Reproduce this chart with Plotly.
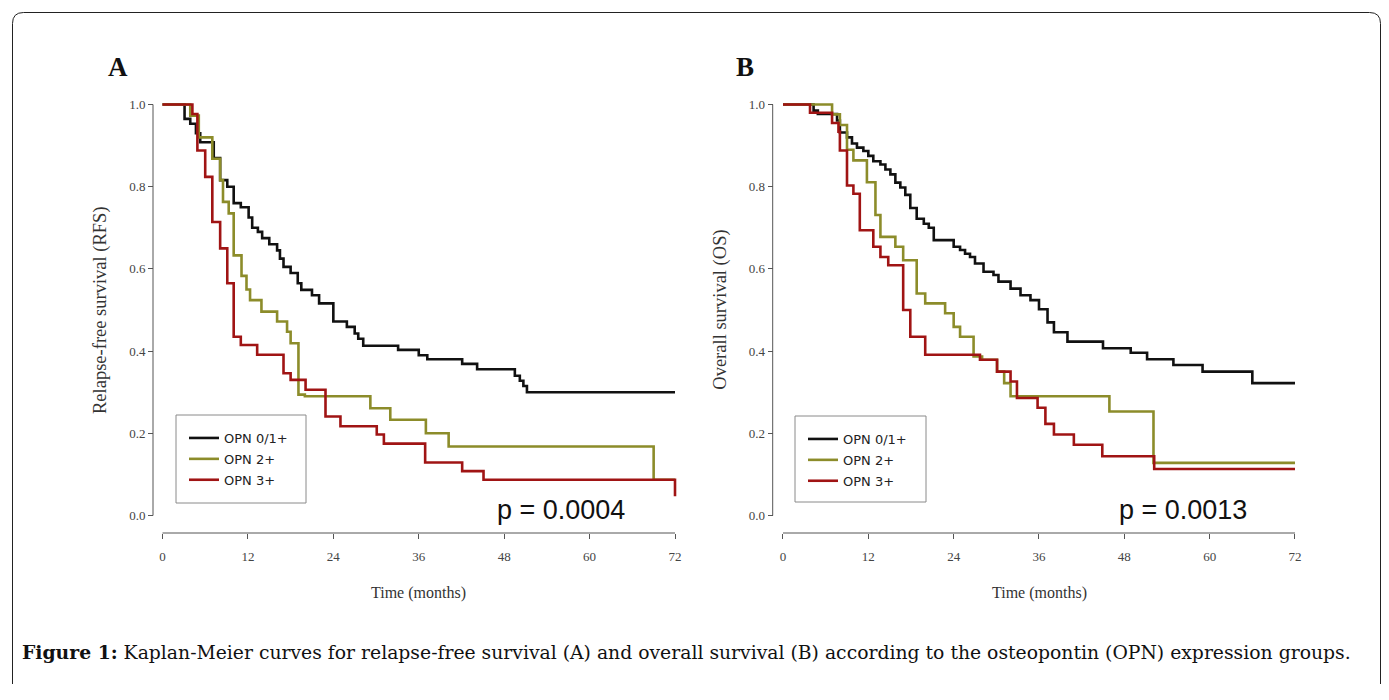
import plotly.graph_objects as go

# ---------------- data ----------------
series_names = ["OPN 0/1+", "OPN 2+", "OPN 3+"]
x_ticks = [0, 12, 24, 36, 48, 60, 72]
y_ticks = [0.0, 0.2, 0.4, 0.6, 0.8, 1.0]

# Panel A: relapse-free survival
rfs_01_t = [0, 3.1, 3.9, 4.7, 5.3, 7.2, 8.1, 9.1, 10.0, 11.0, 12.1, 12.6, 13.4, 14.0, 15.0, 16.1, 16.5,
            17.0, 18.0, 19.0, 19.5, 21.0, 22.0, 24.0, 25.9, 27.0, 27.5, 28.2, 33.1, 36.0, 37.2, 42.1,
            44.2, 49.5, 50.2, 50.7, 51.2, 72]
rfs_01_s = [1.0, 0.965, 0.953, 0.93, 0.908, 0.87, 0.816, 0.80, 0.76, 0.75, 0.725, 0.70, 0.69, 0.675,
            0.66, 0.645, 0.625, 0.605, 0.59, 0.565, 0.549, 0.536, 0.516, 0.472, 0.459, 0.443, 0.43,
            0.413, 0.403, 0.39, 0.38, 0.369, 0.356, 0.34, 0.328, 0.315, 0.30, 0.30]
rfs_2_t = [0, 3.9, 5.1, 7.0, 8.1, 8.5, 9.3, 10.0, 11.1, 11.8, 12.3, 13.9, 16.1, 17.5, 18.0, 19.1, 20.0,
           29.2, 32.0, 37.0, 40.2, 69.0, 72]
rfs_2_s = [1.0, 0.973, 0.92, 0.868, 0.816, 0.763, 0.735, 0.633, 0.583, 0.55, 0.524, 0.496, 0.472, 0.447,
           0.419, 0.294, 0.29, 0.261, 0.233, 0.20, 0.168, 0.087, 0.087]
rfs_3_t = [0, 4.2, 4.9, 6.0, 7.0, 8.1, 9.1, 10.0, 11.0, 13.3, 17.0, 18.0, 20.1, 22.9, 25.0, 30.1, 31.1,
           36.9, 42.1, 45.1, 72, 72]
rfs_3_s = [1.0, 0.977, 0.888, 0.824, 0.714, 0.65, 0.565, 0.435, 0.415, 0.391, 0.346, 0.33, 0.306, 0.241,
           0.217, 0.197, 0.175, 0.129, 0.108, 0.087, 0.087, 0.047]

# Panel B: overall survival
os_01_t = [0, 4.3, 4.9, 7.6, 8.0, 9.0, 9.7, 10.4, 11.3, 12.0, 12.7, 13.7, 14.4, 15.1, 15.8, 16.5, 17.2,
           17.9, 18.8, 19.8, 20.5, 21.2, 24.0, 24.9, 25.6, 26.3, 27.0, 28.2, 29.6, 30.3, 32.0, 33.4,
           34.8, 36.0, 37.2, 38.1, 40.0, 45.0, 48.9, 51.2, 54.9, 59.0, 66.0, 72]
os_01_s = [1.0, 0.985, 0.977, 0.961, 0.932, 0.92, 0.905, 0.895, 0.887, 0.875, 0.862, 0.854, 0.842, 0.83,
           0.81, 0.798, 0.78, 0.748, 0.722, 0.71, 0.70, 0.67, 0.654, 0.646, 0.637, 0.629, 0.613, 0.593,
           0.585, 0.569, 0.552, 0.536, 0.524, 0.502, 0.47, 0.446, 0.423, 0.407, 0.396, 0.38, 0.366,
           0.35, 0.322, 0.322]
os_2_t = [0, 6.9, 8.0, 9.0, 9.9, 11.8, 13.0, 13.7, 15.8, 16.9, 18.8, 20.0, 22.8, 24.0, 24.9, 26.8, 28.0,
          30.1, 31.1, 32.0, 45.9, 52.1, 72]
os_2_s = [1.0, 0.976, 0.95, 0.89, 0.864, 0.811, 0.731, 0.678, 0.654, 0.621, 0.54, 0.516, 0.492, 0.459,
          0.435, 0.387, 0.379, 0.35, 0.322, 0.29, 0.253, 0.128, 0.128]
os_3_t = [0, 3.8, 6.9, 7.8, 8.0, 9.0, 9.9, 10.8, 12.7, 13.7, 14.8, 16.9, 17.9, 20.0, 27.7, 30.1, 32.0,
          32.9, 35.8, 36.9, 38.1, 40.9, 44.9, 52.2, 72]
os_3_s = [1.0, 0.98, 0.955, 0.934, 0.888, 0.803, 0.783, 0.694, 0.654, 0.629, 0.609, 0.5, 0.435, 0.391,
          0.379, 0.35, 0.326, 0.286, 0.262, 0.223, 0.197, 0.172, 0.144, 0.113, 0.113]

p_values = ["p = 0.0004", "p = 0.0013"]
panel_letters = ["A", "B"]
y_titles = ["Relapse-free survival (RFS)", "Overall survival (OS)"]
x_title = "Time (months)"
caption_bold = "Figure 1:"
caption_text = (" Kaplan-Meier curves for relapse-free survival (A) and overall survival (B) "
                "according to the osteopontin (OPN) expression groups.")

# ---------------- styling / geometry ----------------
OFF = 8                      # page body margin of the html page
W, H = 1389 - OFF, 676
colors = ["#111111", "#8c8c2a", "#a01414"]
SERIF = "Liberation Serif"
SANS = "Liberation Sans"


def px(p):
    return (p - OFF) / W


def py(p):
    return 1 - (p - OFF) / H


XR = [-1, 73]
YR = [-0.02, 1.02]
s0px, s1px = 515.5, 104.5
panels = [
    dict(t0=162.5, t72=675.0, yline=153.0, xline=533.0, box=(176, 415, 306, 503), pcx=561, lx=118),
    dict(t0=783.0, t72=1295.0, yline=772.7, xline=533.0, box=(795, 416, 926, 502), pcx=1183, lx=745),
]

fig = go.Figure()
data_sets = [
    [(rfs_01_t, rfs_01_s), (rfs_2_t, rfs_2_s), (rfs_3_t, rfs_3_s)],
    [(os_01_t, os_01_s), (os_2_t, os_2_s), (os_3_t, os_3_s)],
]

shapes = []
annotations = []
layout_axes = {}
for i, (pan, ds) in enumerate(zip(panels, data_sets)):
    xa = "x" if i == 0 else "x2"
    ya = "y" if i == 0 else "y2"
    leg = "legend" if i == 0 else "legend2"
    for j, (t, s) in enumerate(ds):
        fig.add_trace(go.Scatter(
            x=t, y=s, mode="lines", name=series_names[j],
            line=dict(shape="hv", color=colors[j], width=2.6),
            xaxis=xa, yaxis=ya, legend=leg, legendgroup=f"g{i}{j}",
            hoverinfo="skip",
        ))
    ppm = (pan["t72"] - pan["t0"]) / 72.0
    dx0 = pan["t0"] + XR[0] * ppm
    dx1 = pan["t0"] + XR[1] * ppm
    ppu = s0px - s1px
    dy0 = s0px - YR[0] * ppu
    dy1 = s0px - YR[1] * ppu
    xkey = "xaxis" if i == 0 else "xaxis2"
    ykey = "yaxis" if i == 0 else "yaxis2"
    tickfont = dict(family=SERIF, size=13, color="#444444")
    layout_axes[xkey] = dict(
        domain=[px(dx0), px(dx1)], range=XR, anchor="free", position=py(pan["xline"]),
        tickvals=x_ticks, ticktext=[str(v) for v in x_ticks], ticks="outside", ticklen=5,
        tickcolor="#555555", tickwidth=1, showline=False, showgrid=False, zeroline=False,
        tickfont=tickfont, fixedrange=True, ticklabelstandoff=6,
    )
    layout_axes[ykey] = dict(
        domain=[py(dy0), py(dy1)], range=YR, anchor="free", position=px(pan["yline"]),
        tickvals=y_ticks, ticktext=[f"{v:.1f}" for v in y_ticks], ticks="outside", ticklen=5,
        tickcolor="#555555", tickwidth=1, showline=False, showgrid=False, zeroline=False,
        tickfont=tickfont, fixedrange=True,
    )
    # R-style axis lines spanning first to last tick
    shapes.append(dict(type="line", xref=xa, yref="paper", x0=x_ticks[0], x1=x_ticks[-1],
                       y0=py(pan["xline"]), y1=py(pan["xline"]), line=dict(color="#555555", width=1)))
    shapes.append(dict(type="line", xref="paper", yref=ya, x0=px(pan["yline"]), x1=px(pan["yline"]),
                       y0=y_ticks[0], y1=y_ticks[-1], line=dict(color="#555555", width=1)))
    # legend (box drawn as a shape, entries by plotly's legend)
    bx0, by0, bx1, by1 = pan["box"]
    shapes.append(dict(type="rect", xref="paper", yref="paper", x0=px(bx0), x1=px(bx1),
                       y0=py(by0), y1=py(by1), line=dict(color="#8a8a8a", width=1)))
    layout_axes[leg] = dict(
        x=px(bx0 + 8), y=py(by0 + 8), xanchor="left", yanchor="top",
        borderwidth=0, bgcolor="rgba(255,255,255,0)",
        font=dict(family="DejaVu Sans", size=13, color="#222222"),
        tracegroupgap=1, itemwidth=30, traceorder="grouped",
    )
    # texts
    annotations.append(dict(text=p_values[i], x=px(pan["pcx"]), y=py(510), xref="paper", yref="paper",
                            showarrow=False, font=dict(family=SANS, size=27, color="#111111"),
                            xanchor="center", yanchor="middle"))
    annotations.append(dict(text=f"<b>{panel_letters[i]}</b>", x=px(pan["lx"]), y=py(67), xref="paper",
                            yref="paper", showarrow=False, font=dict(family=SERIF, size=27, color="#111111"),
                            xanchor="center", yanchor="middle"))
    annotations.append(dict(text=y_titles[i], x=px(pan["yline"] - 52), y=py((s0px + s1px) / 2),
                            xref="paper", yref="paper", showarrow=False, textangle=-90,
                            font=dict(family=SERIF, size=18.5, color="#333333"),
                            xanchor="center", yanchor="middle"))
    annotations.append(dict(text=x_title, x=px((pan["t0"] + pan["t72"]) / 2), y=py(593),
                            xref="paper", yref="paper", showarrow=False,
                            font=dict(family=SERIF, size=16, color="#333333"),
                            xanchor="center", yanchor="middle"))

annotations.append(dict(text=f"<b>{caption_bold}</b>{caption_text}", x=px(20), y=py(652),
                        xref="paper", yref="paper", showarrow=False, xanchor="left", yanchor="middle",
                        font=dict(family="DejaVu Serif", size=18.8, color="#111111")))

# rounded outer frame
r = 11
L, T, R_, B = 12.5, 12.5, 1380.5, 720
path = (f"M {px(L + r)},{py(T)} L {px(R_ - r)},{py(T)} Q {px(R_)},{py(T)} {px(R_)},{py(T + r)} "
        f"L {px(R_)},{py(B - r)} Q {px(R_)},{py(B)} {px(R_ - r)},{py(B)} "
        f"L {px(L + r)},{py(B)} Q {px(L)},{py(B)} {px(L)},{py(B - r)} "
        f"L {px(L)},{py(T + r)} Q {px(L)},{py(T)} {px(L + r)},{py(T)} Z")
shapes.append(dict(type="path", xref="paper", yref="paper", path=path,
                   line=dict(color="#222222", width=1)))

fig.update_layout(
    width=W, height=H, margin=dict(l=0, r=0, t=0, b=0),
    paper_bgcolor="white", plot_bgcolor="white",
    shapes=shapes, annotations=annotations, **layout_axes,
)

fig.write_html("out.html")
